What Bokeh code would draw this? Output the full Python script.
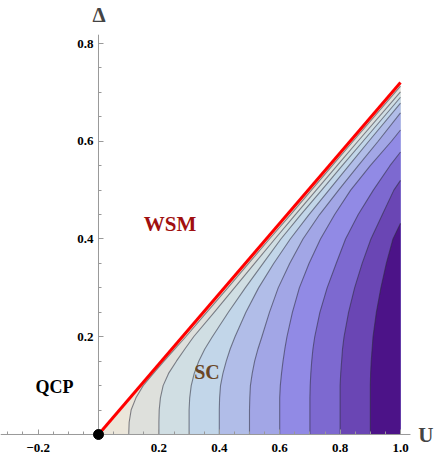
from bokeh.plotting import figure
from bokeh.embed import file_html
from bokeh.resources import INLINE
from bokeh.models import Range1d, FixedTicker, CustomJSTickFormatter, Label

# ---------------- data ----------------
levels = [0.1, 0.2, 0.3, 0.4, 0.5, 0.6, 0.7, 0.8, 0.9]
band_colors = ["#EBE6DA", "#DEE0DC", "#D0DEE3", "#C2D6E9", "#B1BDE8",
               "#A2A6E6", "#918AE5", "#7D69D0", "#6A46B4", "#4C1388"]

# phase boundary (red line): from the QCP to the right edge
boundary_u = [0.0, 1.0]
boundary_d = [0.0, 0.72]

# contour lines: Delta rows and the U where each contour crosses them,
# each ending on the right edge U = 1 at Delta = contour_end
delta_rows = [0.0, 0.025, 0.05, 0.075, 0.10, 0.125, 0.15, 0.175, 0.20,
              0.25, 0.30, 0.35, 0.40, 0.45, 0.50, 0.55, 0.60]
contour_u = [
    [0.100, 0.1015, 0.108, 0.124, 0.148, 0.182, 0.217, 0.253, 0.289,
     0.358, 0.428, 0.497, 0.566, 0.636, 0.705, 0.774, 0.843],
    [0.200, 0.200, 0.201, 0.205, 0.214, 0.232, 0.258, 0.286, 0.315,
     0.383, 0.450, 0.517, 0.584, 0.652, 0.721, 0.790, 0.859],
    [0.300, 0.300, 0.300, 0.302, 0.307, 0.317, 0.332, 0.352, 0.377,
     0.430, 0.486, 0.545, 0.604, 0.670, 0.739, 0.807, 0.876],
    [0.400, 0.400, 0.400, 0.401, 0.404, 0.412, 0.423, 0.436, 0.452,
     0.488, 0.530, 0.580, 0.635, 0.697, 0.763, 0.829, 0.895],
    [0.500, 0.500, 0.500, 0.501, 0.503, 0.509, 0.517, 0.528, 0.541,
     0.566, 0.595, 0.633, 0.677, 0.732, 0.795, 0.860, 0.926],
    [0.600, 0.600, 0.600, 0.600, 0.602, 0.606, 0.611, 0.617, 0.624,
     0.642, 0.665, 0.697, 0.735, 0.782, 0.835, 0.900, 0.970],
    [0.700, 0.700, 0.700, 0.700, 0.701, 0.703, 0.706, 0.710, 0.716,
     0.733, 0.757, 0.787, 0.818, 0.860, 0.910, 0.965],
    [0.800, 0.800, 0.800, 0.800, 0.800, 0.802, 0.805, 0.808, 0.813,
     0.828, 0.848, 0.873, 0.902, 0.940, 0.978],
    [0.900, 0.900, 0.900, 0.900, 0.900, 0.901, 0.903, 0.906, 0.909,
     0.920, 0.935, 0.953, 0.975],
]
contour_end = [0.713, 0.701, 0.690, 0.678, 0.658, 0.623, 0.578, 0.520, 0.432]

x_axis_span = [-0.3245, 1.033]
y_axis_span = [0.0, 0.818]
x_major = [-0.2, 0.2, 0.4, 0.6, 0.8, 1.0]
x_minor = [-0.3, -0.25, -0.15, -0.1, -0.05, 0.05, 0.1, 0.15, 0.25, 0.3, 0.35,
           0.45, 0.5, 0.55, 0.65, 0.7, 0.75, 0.85, 0.9, 0.95]
y_major = [0.2, 0.4, 0.6, 0.8]
y_minor = [0.05, 0.1, 0.15, 0.25, 0.3, 0.35, 0.45, 0.5, 0.55, 0.65, 0.7, 0.75]

labels = [("WSM", 0.237, 0.431, "#A00F0F", 21),
          ("SC", 0.359, 0.128, "#6B4726", 20),
          ("QCP", -0.146, 0.098, "#000000", 18)]

# ---------------- figure ----------------
FONT = "Liberation Serif"
p = figure(width=436, height=455,
           x_range=Range1d(-0.3245, 1.1192), y_range=Range1d(-0.04297, 0.88798),
           output_backend="svg", toolbar_location=None,
           min_border_left=0, min_border_right=0,
           min_border_top=0, min_border_bottom=0)
p.outline_line_color = None
p.grid.visible = False
p.background_fill_color = "white"

# base band: whole region under the boundary
p.patch([boundary_u[0], boundary_u[1], boundary_u[1]],
        [boundary_d[0], boundary_d[1], 0.0],
        fill_color=band_colors[0], line_color=None)

curves = []
for i, lev in enumerate(levels):
    us = list(contour_u[i]) + [1.0]
    ds = delta_rows[:len(contour_u[i])] + [contour_end[i]]
    curves.append((us, ds))
    p.patch(us + [1.0], ds + [0.0], fill_color=band_colors[i + 1], line_color=None)

for us, ds in curves:
    p.line(us, ds, line_color="#2B2B3A", line_alpha=0.55, line_width=1.1)

# axis lines (drawn with their visible extent)
p.line(x_axis_span, [0, 0], line_color="#999999", line_width=1)
p.line([0, 0], y_axis_span, line_color="#999999", line_width=1)

p.line(boundary_u, boundary_d, line_color="#FF0000", line_width=3)
p.scatter([0.0], [0.0], size=10, color="black")

# axes (ticks + labels) fixed at the origin
xa = p.xaxis[0]
xa.ticker = FixedTicker(ticks=x_major, minor_ticks=x_minor)
xa.fixed_location = 0
ya = p.yaxis[0]
ya.ticker = FixedTicker(ticks=y_major, minor_ticks=y_minor)
ya.fixed_location = 0
fmt = CustomJSTickFormatter(code="return tick.toFixed(1).replace('-', '\u2212');")
for ax in (xa, ya):
    ax.formatter = fmt
    ax.axis_line_color = None
    ax.major_tick_line_color = "#999999"
    ax.minor_tick_line_color = "#999999"
    ax.major_tick_in = 5
    ax.major_tick_out = 0
    ax.minor_tick_in = 3
    ax.minor_tick_out = 0
    ax.major_label_text_font = FONT
    ax.major_label_text_font_style = "bold"
    ax.major_label_text_font_size = "13px"
    ax.major_label_text_color = "black"
xa.major_label_standoff = 10
ya.major_label_standoff = 5

for txt, x, y, col, fs in labels:
    p.add_layout(Label(x=x, y=y, text=txt, text_color=col, text_font=FONT,
                       text_font_style="bold", text_font_size=f"{fs}px",
                       text_align="center", text_baseline="middle"))

p.add_layout(Label(x=0.0017, y=0.859, text="\u0394", text_font=FONT, text_font_style="bold",
                   text_font_size="21px", text_align="center", text_baseline="middle"))
p.add_layout(Label(x=1.084, y=-0.001, text="U", text_font=FONT, text_font_style="bold",
                   text_font_size="21px", text_align="center", text_baseline="middle"))

open("out.html", "w").write(file_html(p, INLINE))
